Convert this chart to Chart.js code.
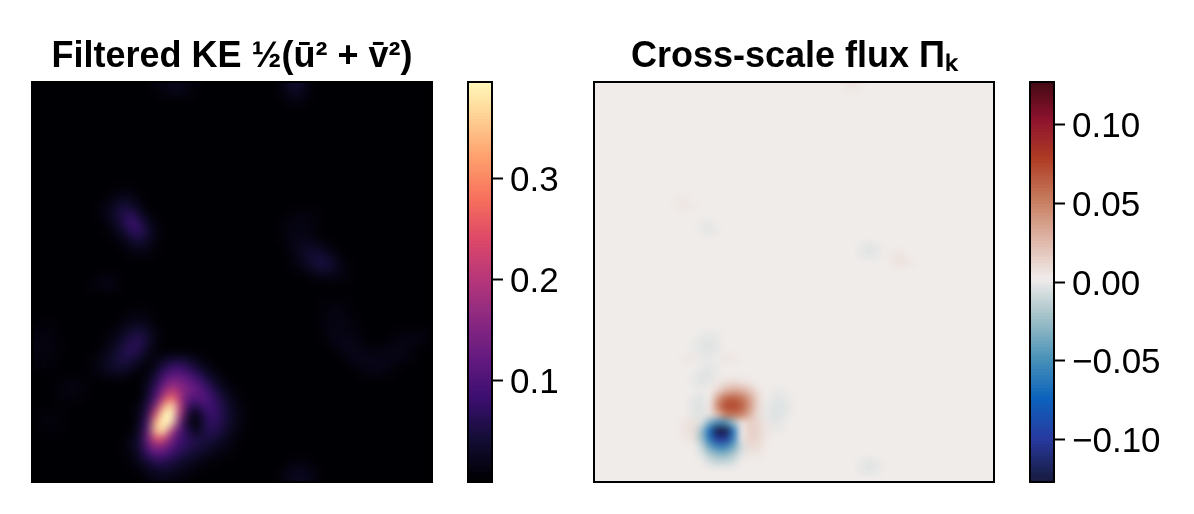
<!DOCTYPE html>
<html>
<head>
<meta charset="utf-8">
<title>Filtered KE and cross-scale flux</title>
<script src="https://cdn.jsdelivr.net/npm/chart.js@4/dist/chart.umd.min.js"></script>
<style>
  body { margin: 0; background: #fff; width: 1194px; height: 514px; overflow: hidden; }
  canvas { position: absolute; top: 0; }
</style>
</head>
<body>
<canvas id="keMap" width="464" height="514" style="left:0"></canvas>
<canvas id="keBar" width="134" height="514" style="left:460px"></canvas>
<canvas id="fluxMap" width="500" height="514" style="left:544px"></canvas>
<canvas id="fluxBar" width="164" height="514" style="left:1022px"></canvas>
<script>
var gridSize = 50;

var keTitle = 'Filtered KE ½(ū² + v̄²)';
var fluxTitle = 'Cross-scale flux Πₖ';
var keTicks = [0.1, 0.2, 0.3];
var fluxTicks = [-0.10, -0.05, 0.00, 0.05, 0.10];
var keRange = [0, 0.395];
var fluxRange = [-0.127, 0.127];

// runs: [row from bottom, first column, values in thousandths...]
var keRuns = [
  [0, 14, 6, 12, 14, 12, 8, 5], [0, 31, 10, 18, 22, 18, 10],
  [1, 13, 6, 16, 26, 30, 26, 18, 12, 6], [1, 31, 8, 14, 18, 14, 6],
  [2, 12, 6, 16, 35, 55, 55, 45, 32, 22, 14, 8, 5], [2, 32, 6, 8, 6],
  [3, 12, 10, 28, 70, 100, 100, 72, 55, 42, 30, 22, 14, 8, 5],
  [4, 11, 5, 16, 40, 105, 155, 145, 105, 75, 60, 48, 38, 28, 18, 10, 5],
  [5, 12, 14, 38, 125, 245, 225, 135, 85, 65, 50, 48, 45, 32, 18, 8],
  [6, 1, 4, 6, 4], [6, 13, 28, 110, 350, 390, 200, 100, 55, 12, 45, 62, 48, 28, 12, 5],
  [7, 1, 5, 6, 5], [7, 13, 22, 85, 330, 520, 380, 130, 35, 0, 45, 72, 58, 35, 16, 6],
  [8, 1, 5, 6, 5], [8, 13, 18, 65, 240, 470, 480, 190, 50, 0, 55, 78, 62, 38, 18, 6],
  [9, 13, 12, 50, 150, 310, 400, 210, 80, 45, 85, 85, 62, 35, 14, 5],
  [10, 3, 5, 6, 5], [10, 14, 38, 100, 210, 280, 190, 110, 100, 105, 80, 50, 25, 10],
  [11, 3, 6, 9, 9, 6], [11, 14, 28, 75, 150, 205, 170, 135, 120, 100, 65, 35, 15, 5],
  [12, 3, 6, 9, 9, 6], [12, 14, 18, 55, 115, 150, 145, 125, 105, 72, 40, 18, 6],
  [13, 7, 4, 8, 14, 18, 16, 8], [13, 14, 10, 35, 80, 110, 110, 95, 70, 42, 20, 8], [13, 41, 5, 8, 8, 5],
  [14, 0, 4, 6, 4], [14, 7, 6, 12, 24, 34, 36, 26, 12], [14, 15, 18, 48, 70, 75, 60, 38, 18, 8], [14, 40, 8, 12, 14, 14, 10, 6],
  [15, 0, 6, 8, 6], [15, 7, 5, 10, 22, 38, 50, 46, 28, 10], [15, 15, 8, 20, 32, 35, 25, 14, 6], [15, 39, 9, 15, 16, 15, 14, 14, 12, 9, 5],
  [16, 0, 8, 9, 8, 4], [16, 8, 6, 14, 30, 50, 62, 50, 22, 5], [16, 38, 9, 15, 15, 11, 8, 8, 11, 12, 11, 6],
  [17, 0, 8, 9, 8, 4], [17, 9, 8, 20, 40, 58, 60, 34, 10], [17, 37, 8, 14, 15, 11, 6], [17, 44, 6, 9, 11, 11, 8],
  [18, 0, 6, 8, 6], [18, 9, 5, 12, 26, 42, 50, 32, 10], [18, 36, 5, 11, 14, 12, 8, 4], [18, 45, 5, 8, 9, 9, 6],
  [19, 0, 4, 6, 6], [19, 10, 6, 14, 22, 28, 20, 8], [19, 36, 6, 11, 12, 9, 5],
  [20, 11, 6, 10, 12, 8], [20, 36, 6, 9, 11, 8, 4],
  [21, 12, 5, 6, 5], [21, 36, 6, 8, 8, 5],
  [22, 36, 4, 6, 6, 4],
  [24, 7, 6, 10, 12, 8],
  [25, 8, 8, 12, 8], [25, 35, 5, 8, 10, 8, 5],
  [26, 33, 6, 12, 26, 32, 26, 12, 5],
  [27, 32, 6, 14, 28, 42, 46, 34, 14, 5],
  [28, 12, 5, 8, 6], [28, 32, 6, 18, 30, 38, 32, 18, 6],
  [29, 11, 6, 14, 22, 16, 6], [29, 32, 10, 20, 26, 22, 14, 5],
  [30, 10, 6, 16, 38, 48, 28, 10], [30, 31, 6, 12, 16, 14, 8],
  [31, 9, 5, 14, 34, 66, 68, 36, 12], [31, 31, 6, 10, 12, 10, 5],
  [32, 9, 8, 24, 52, 80, 60, 24, 6], [32, 31, 6, 8, 10, 8, 5],
  [33, 8, 6, 16, 32, 56, 62, 34, 10], [33, 32, 6, 8, 8, 6],
  [34, 8, 5, 12, 26, 42, 34, 14],
  [35, 9, 6, 14, 22, 16, 6],
  [36, 10, 5, 8, 6],
  [47, 32, 8, 8],
  [48, 16, 6, 10, 10, 6], [48, 31, 6, 18, 18, 6],
  [49, 15, 8, 12, 18, 18, 12, 6], [49, 31, 14, 30, 30, 12]
];

var fluxRuns = [
  [1, 33, -3, -5, -3],
  [2, 14, -8, -12, -12, -8], [2, 33, -3, -5, -3],
  [3, 13, -6, -20, -30, -30, -20, -5, 3, 3],
  [4, 13, -12, -42, -58, -58, -40, -10, 8, 7, 2],
  [5, 11, 3, 5, -26, -66, -105, -105, -60, 2, 12, 10, 3],
  [6, 11, 4, 7, -26, -72, -132, -132, -66, 0, 14, 12, 4, -2, -2],
  [7, 11, 4, 5, -6, -36, -54, -50, -26, 3, 12, 10, 3, -4, -3],
  [8, 12, -4, -5, 3, 22, 48, 52, 48, 28, 8, -3, -6, -5, -2],
  [9, 12, -5, -6, 2, 45, 70, 72, 62, 38, 10, -2, -5, -6, -3],
  [10, 12, -4, -5, 0, 35, 58, 62, 54, 35, 10, 0, -4, -4, -2],
  [11, 13, -2, 0, 10, 25, 30, 28, 18, 6, 0, -2, -2],
  [12, 12, -3, -5, -3, 2, 6, 8, 6, 3],
  [13, 12, -2, -5, -5, -2],
  [14, 13, -2, -4, -2],
  [15, 11, 3, 2, -2, -3, 0, 4, 3],
  [16, 12, -2, -4, -5, -3],
  [17, 12, -2, -4, -5, -3],
  [18, 13, -2, -3, -2],
  [27, 37, 3, 5, 3],
  [28, 33, -3, -5, -3], [28, 37, 3, 4],
  [29, 33, -3, -5, -3],
  [31, 13, -2, -4, -2],
  [32, 13, -2, -3],
  [34, 10, 2, 3, 2],
  [35, 10, 2, 2],
  [49, 31, 3, 4, 2]
];

var magmaColors = [[0, 0, 4], [20, 14, 54], [59, 15, 112], [100, 26, 128], [140, 41, 129], [183, 55, 121], [222, 73, 104], [247, 112, 92], [254, 159, 109], [254, 207, 146], [255, 252, 190]];
var balanceColors = [[24, 28, 67], [40, 58, 160], [12, 98, 188], [74, 146, 184], [160, 192, 200], [240, 236, 234], [222, 180, 165], [198, 122, 92], [174, 60, 36], [140, 18, 46], [60, 9, 18]];

function colorAt(stops, t) {
  t = Math.max(0, Math.min(1, t)) * (stops.length - 1);
  var i = Math.min(Math.floor(t), stops.length - 2);
  var f = t - i;
  var c = stops[i].map(function (a, k) { return Math.round(a + (stops[i + 1][k] - a) * f); });
  return 'rgb(' + c.join(',') + ')';
}

function cellsFromRuns(runs) {
  var grid = {};
  runs.forEach(function (run) {
    run.slice(2).forEach(function (v, k) {
      grid[run[0] + '_' + (run[1] + k)] = v / 1000;
    });
  });
  var cells = [];
  for (var r = 0; r < gridSize; r++) {
    for (var c = 0; c < gridSize; c++) {
      cells.push({ x: c + 0.5, y: r + 0.5, v: grid[r + '_' + c] || 0 });
    }
  }
  return cells;
}

// soften the grid the way the original image interpolation does
var softenPlugin = {
  id: 'soften',
  afterDatasetsDraw: function (chart, args, opts) {
    var a = chart.chartArea, ctx = chart.ctx;
    ctx.save();
    ctx.beginPath();
    ctx.rect(a.left, a.top, a.width, a.height);
    ctx.clip();
    ctx.filter = 'blur(' + opts.radius + 'px)';
    ctx.drawImage(chart.canvas, a.left, a.top, a.width, a.height, a.left, a.top, a.width, a.height);
    ctx.restore();
  }
};

var framePlugin = {
  id: 'frame',
  afterDraw: function (chart) {
    var a = chart.chartArea, ctx = chart.ctx;
    ctx.save();
    ctx.strokeStyle = '#000';
    ctx.lineWidth = 2;
    ctx.strokeRect(a.left, a.top, a.width, a.height);
    ctx.restore();
  }
};

function mapChart(id, title, runs, stops, range, sidePad, blur) {
  return new Chart(document.getElementById(id), {
    type: 'scatter',
    data: {
      datasets: [{
        data: cellsFromRuns(runs),
        pointStyle: 'rect',
        borderWidth: 0,
        pointRadius: function (ctx) {
          var area = ctx.chart.chartArea;
          return area ? (area.width / gridSize + 1) * Math.SQRT1_2 : 6;
        },
        pointBackgroundColor: function (ctx) {
          if (!ctx.raw) return 'transparent';
          return colorAt(stops, (ctx.raw.v - range[0]) / (range[1] - range[0]));
        }
      }]
    },
    options: {
      responsive: false,
      animation: false,
      events: [],
      layout: { padding: { left: sidePad, right: sidePad, top: 0, bottom: 32 } },
      scales: {
        x: { type: 'linear', min: 0, max: gridSize, display: false },
        y: { type: 'linear', min: 0, max: gridSize, display: false }
      },
      plugins: {
        legend: { display: false },
        tooltip: { enabled: false },
        soften: { radius: blur },
        title: {
          display: true,
          text: title,
          color: '#000',
          font: { family: '"Liberation Sans"', size: 36, weight: 'bold', lineHeight: '40px' },
          padding: { top: 37, bottom: 5 }
        }
      }
    },
    plugins: [softenPlugin, framePlugin]
  });
}

function barChart(id, stops, range, ticks, decimals, axisWidth, sidePad) {
  var levels = [];
  var n = 128, step = (range[1] - range[0]) / n;
  for (var i = 0; i < n; i++) levels.push(range[0] + i * step);
  return new Chart(document.getElementById(id), {
    type: 'bar',
    data: {
      labels: [''],
      datasets: levels.map(function (lo, i) {
        return {
          data: [[lo, Math.min(lo + 2 * step, range[1])]],
          backgroundColor: colorAt(stops, (i + 0.5) / n),
          grouped: false,
          categoryPercentage: 1,
          barPercentage: 1
        };
      })
    },
    options: {
      responsive: false,
      animation: false,
      events: [],
      layout: { padding: { left: sidePad, right: 0, top: 82, bottom: 32 } },
      scales: {
        x: { display: false },
        y: {
          position: 'right',
          min: range[0],
          max: range[1],
          afterBuildTicks: function (scale) {
            scale.ticks = ticks.map(function (v) { return { value: v }; });
          },
          afterFit: function (scale) { scale.width = axisWidth; },
          grid: { drawOnChartArea: false, drawTicks: true, tickLength: 11, tickWidth: 2, tickColor: '#000' },
          border: { display: false },
          ticks: {
            color: '#000',
            padding: 7,
            labelOffset: 3,
            autoSkip: false,
            maxRotation: 0,
            font: { family: '"Liberation Sans"', size: 35 },
            callback: function (v) {
              return (v < 0 ? '\u2212' : '') + Math.abs(v).toFixed(decimals);
            }
          }
        }
      },
      plugins: { legend: { display: false }, tooltip: { enabled: false } }
    },
    plugins: [framePlugin]
  });
}

mapChart('keMap', keTitle, keRuns, magmaColors, keRange, 32, 5);
barChart('keBar', magmaColors, keRange, keTicks, 1, 102, 8);
mapChart('fluxMap', fluxTitle, fluxRuns, balanceColors, fluxRange, 50, 3.5);
barChart('fluxBar', balanceColors, fluxRange, fluxTicks, 2, 132, 8);
</script>
</body>
</html>
